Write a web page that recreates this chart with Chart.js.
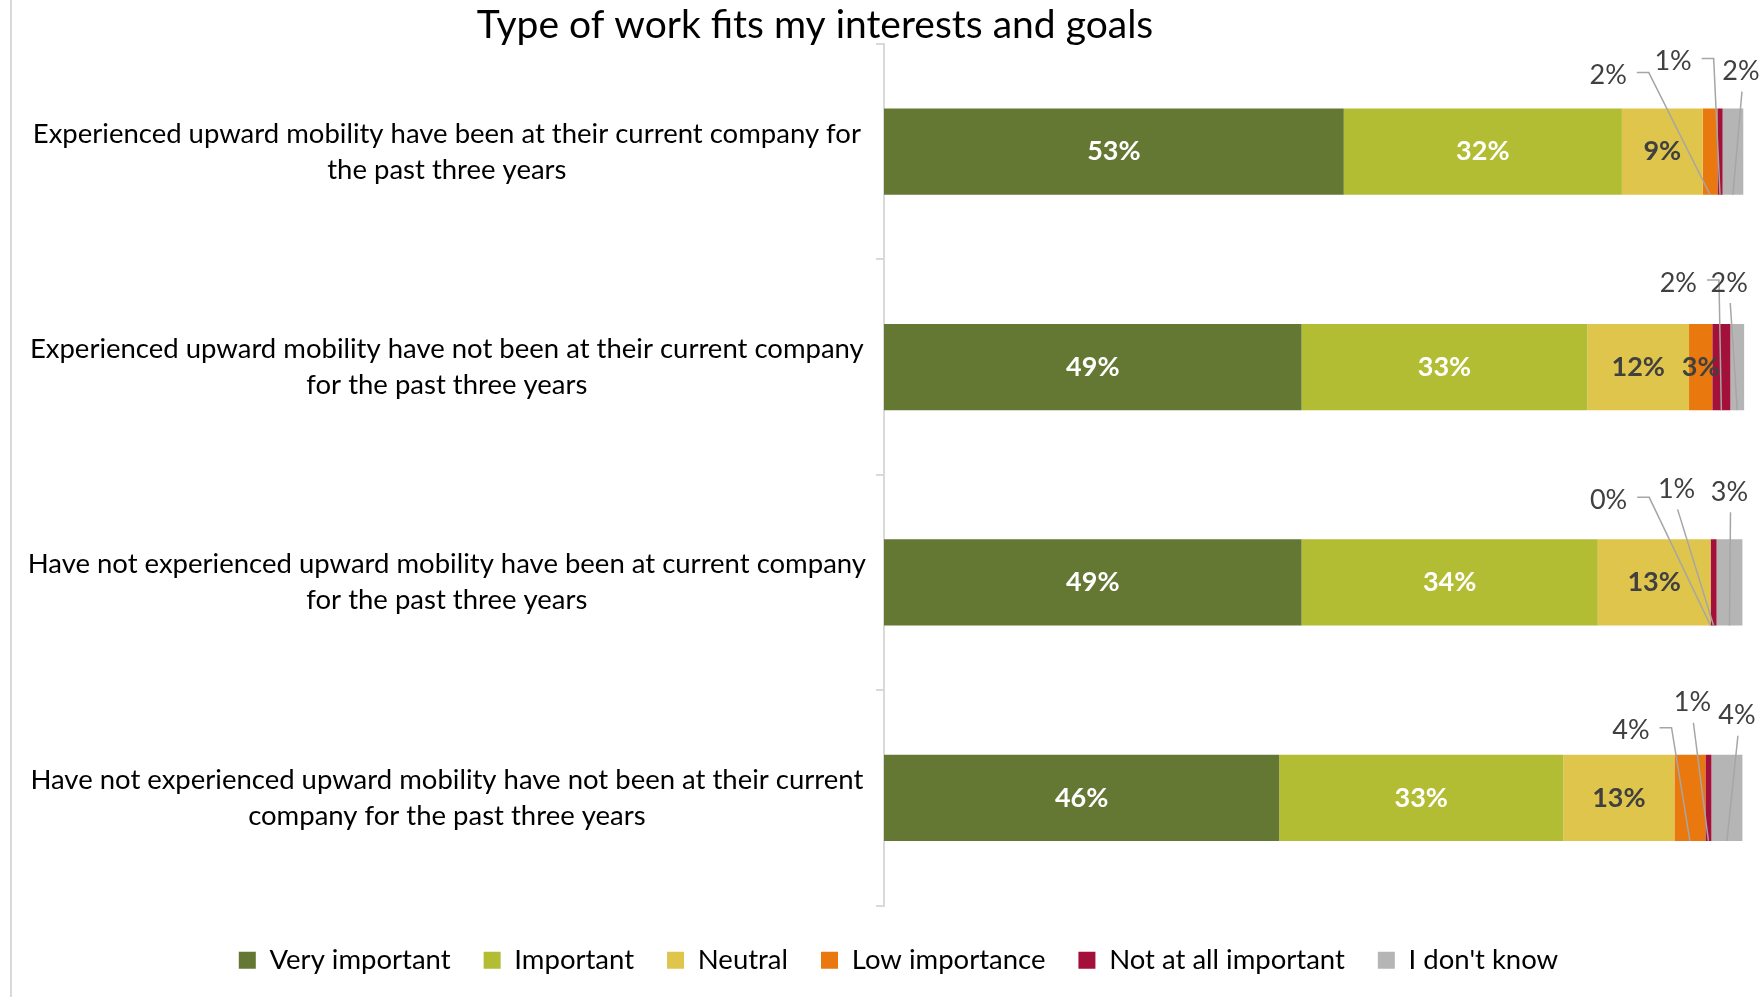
<!DOCTYPE html>
<html><head><meta charset="utf-8">
<script src="https://cdn.jsdelivr.net/npm/chart.js@4.4.0/dist/chart.umd.min.js"></script>
<style>html,body{margin:0;padding:0;background:#fff}#wrap{width:1760px;height:997px;position:relative}</style>
</head><body><div id="wrap"><canvas id="c" width="1760" height="997"></canvas></div>
<script>
const TITLE = "Type of work fits my interests and goals";
const categories = [
  ["Experienced upward mobility have been at their current company for", "the past three years"],
  ["Experienced upward mobility have not been at their current company", "for the past three years"],
  ["Have not experienced upward mobility have been at current company", "for the past three years"],
  ["Have not experienced upward mobility have not been at their current", "company for the past three years"]
];
const seriesNames = ["Very important", "Important", "Neutral", "Low importance", "Not at all important", "I don't know"];
const veryImportant = [53.4, 48.5, 48.5, 45.9];
const important     = [32.3, 33.2, 34.4, 33.0];
const neutral       = [9.4, 11.8, 13.1, 12.9];
const lowImportance = [1.7, 2.7, 0, 3.6];
const notAtAll      = [0.6, 2.1, 0.7, 0.7];
const dontKnow      = [2.4, 1.6, 3.0, 3.6];

const FONT = "Lato";
const colors = ["#657833", "#b2bd33", "#dfc54c", "#e9780f", "#a3103a", "#b5b5b5"];
const insideColors = ["#ffffff", "#ffffff", "#404040", "#404040", "#404040", "#404040"];
// callout label placement (style only): offset from segment centre / bar top
const callouts = [
  {row:0, ds:3, dx:-102, dy:-33, kind:'elbow'},
  {row:0, ds:4, dx:-47, dy:-47, kind:'elbow'},
  {row:0, ds:5, dx:8, dy:-37, kind:'below'},
  {row:1, ds:4, dx:-43, dy:-41, kind:'elbow'},
  {row:1, ds:5, dx:-8, dy:-41, kind:'below'},
  {row:2, ds:3, dx:-102, dy:-39, kind:'elbow'},
  {row:2, ds:4, dx:-37, dy:-50, kind:'below'},
  {row:2, ds:5, dx:0, dy:-47, kind:'below'},
  {row:3, ds:3, dx:-59, dy:-24, kind:'elbow'},
  {row:3, ds:4, dx:-16, dy:-52, kind:'below'},
  {row:3, ds:5, dx:10, dy:-39, kind:'below'}
];
const LEGEND_SHIFT = 52;

const labelPlugin = {
  id: 'labels',
  afterLayout(chart) {
    if (chart.legend) { chart.legend.left += LEGEND_SHIFT; }
  },
  afterDatasetsDraw(chart) {
    const ctx = chart.ctx;
    ctx.save();
    ctx.textBaseline = 'middle';
    const isCallout = (r, d) => callouts.some(c => c.row === r && c.ds === d);
    chart.data.datasets.forEach((dsObj, d) => {
      const meta = chart.getDatasetMeta(d);
      meta.data.forEach((el, r) => {
        if (isCallout(r, d)) return;
        const v = dsObj.data[r];
        const cx = (el.x + el.base) / 2;
        ctx.font = "bold 27px " + FONT;
        ctx.fillStyle = insideColors[d];
        ctx.textAlign = 'center';
        ctx.fillText(Math.round(v) + "%", cx, el.y);
      });
    });
    callouts.forEach(c => {
      const el = chart.getDatasetMeta(c.ds).data[c.row];
      const v = chart.data.datasets[c.ds].data[c.row];
      const cx = (el.x + el.base) / 2;
      const top = el.y - el.height / 2;
      const bottom = el.y + el.height / 2;
      const tx = cx + c.dx, ty = top + c.dy;
      const txt = Math.round(v) + "%";
      ctx.font = "27px " + FONT;
      const w = ctx.measureText(txt).width;
      ctx.strokeStyle = '#a6a6a6';
      ctx.lineWidth = 1.5;
      ctx.beginPath();
      if (c.kind === 'elbow') {
        ctx.moveTo(tx + w / 2 + 10, ty - 3);
        ctx.lineTo(tx + w / 2 + 22, ty - 3);
        ctx.lineTo(cx, bottom);
      } else {
        ctx.moveTo(tx + 1, ty + 20);
        ctx.lineTo(cx, bottom);
      }
      ctx.stroke();
      ctx.fillStyle = '#404040';
      ctx.textAlign = 'center';
      ctx.fillText(txt, tx, ty);
    });
    ctx.restore();
  },
  afterDraw(chart) {
    const ctx = chart.ctx;
    ctx.save();
    ctx.strokeStyle = '#d9d9d9';
    ctx.lineWidth = 2;
    ctx.beginPath();
    ctx.moveTo(11, 0);
    ctx.lineTo(11, 997);
    ctx.stroke();
    ctx.fillStyle = '#000';
    ctx.font = "39px " + FONT;
    ctx.textAlign = 'center';
    ctx.textBaseline = 'middle';
    ctx.fillText(TITLE, 815, 25);
    ctx.restore();
  }
};

const seriesData = [veryImportant, important, neutral, lowImportance, notAtAll, dontKnow];

new Chart(document.getElementById('c'), {
  type: 'bar',
  data: {
    labels: categories,
    datasets: seriesNames.map((n, i) => ({
      label: n,
      data: seriesData[i],
      backgroundColor: colors[i],
      borderWidth: 0,
      barPercentage: 0.4,
      categoryPercentage: 1.0
    }))
  },
  options: {
    indexAxis: 'y',
    responsive: false,
    animation: false,
    devicePixelRatio: 1,
    layout: { padding: { left: 0, right: 15, top: 44, bottom: 13 } },
    scales: {
      x: {
        stacked: true, min: 0, max: 100, display: true,
        ticks: { display: false }, grid: { display: false }, border: { display: false },
        afterFit(scale) { scale.height = 8; }
      },
      y: {
        stacked: true,
        afterFit(scale) { scale.width = 884; scale.paddingTop = 0; scale.paddingBottom = 0; },
        grid: { offset: true, drawOnChartArea: false, drawTicks: true, tickLength: 8, color: '#d9d9d9', lineWidth: 2 },
        border: { display: true, color: '#d9d9d9', width: 2 },
        ticks: { crossAlign: 'center', padding: 10, color: '#000', font: { family: FONT, size: 27.5, lineHeight: 1.31 } }
      }
    },
    plugins: {
      title: { display: false },
      tooltip: { enabled: false },
      legend: {
        position: 'bottom',
        labels: { boxWidth: 17, boxHeight: 17, padding: 33, color: '#000', font: { family: FONT, size: 27.5 } }
      }
    }
  },
  plugins: [labelPlugin]
});
</script>
</body></html>
